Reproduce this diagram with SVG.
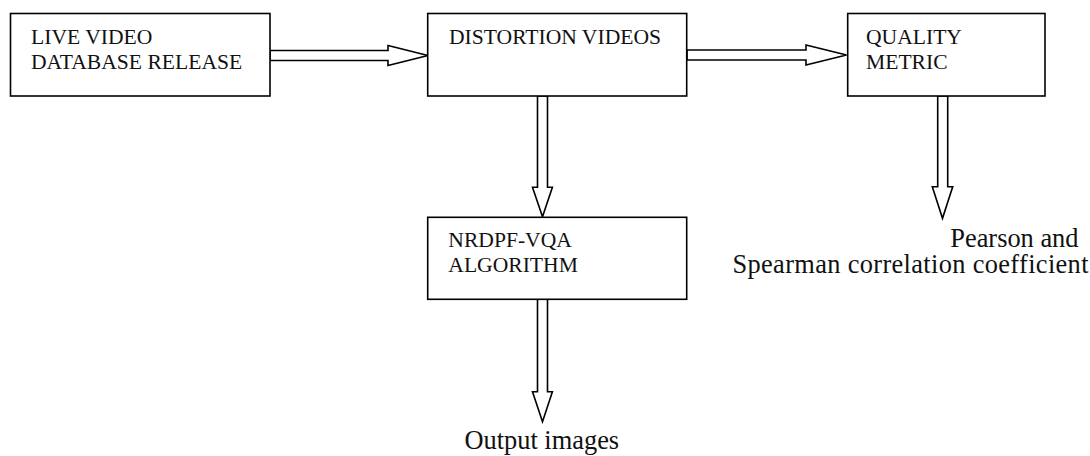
<svg xmlns="http://www.w3.org/2000/svg" width="1090" height="456" viewBox="0 0 1090 456">
  <style>
    .box { fill: #ffffff; stroke: #000000; stroke-width: 1.6; }
    .arrow { fill: #ffffff; stroke: #000000; stroke-width: 1.6; stroke-linejoin: miter; }
    .lbl { font-family: "Liberation Serif", "Times New Roman", serif; font-size: 21.6px; fill: #111111; }
    .out { font-family: "Liberation Serif", "Times New Roman", serif; font-size: 26.4px; fill: #111111; }
  </style>
  <rect width="1090" height="456" fill="#ffffff"/>

  <!-- hollow block arrows, drawn beneath the boxes -->
  <g id="connectors">
    <polygon class="arrow" points="270,50.5 388,50.5 388,45.5 428,55.5 388,65.5 388,60.5 270,60.5"/>
    <polygon class="arrow" points="687,50 806,50 806,45 846.5,55 806,65 806,60 687,60"/>
    <polygon class="arrow" points="537.5,96 547.5,96 547.5,187.3 552.4,187.3 542.5,216.7 532.5,187.3 537.5,187.3"/>
    <polygon class="arrow" points="537.5,299.3 547.5,299.3 547.5,391.7 552.4,391.7 542.5,421.7 532.5,391.7 537.5,391.7"/>
    <polygon class="arrow" points="937.7,96 947.7,96 947.7,186.7 952.7,186.7 942.5,218.3 932.3,186.7 937.7,186.7"/>
  </g>

  <g id="live-video">
    <rect class="box" x="10.5" y="13.5" width="259.5" height="82.5"/>
    <text class="lbl" x="31" y="44">LIVE VIDEO</text>
    <text class="lbl" x="31" y="69">DATABASE RELEASE</text>
  </g>

  <g id="distortion-videos">
    <rect class="box" x="427.7" y="13.5" width="259" height="82.5"/>
    <text class="lbl" x="449" y="44">DISTORTION VIDEOS</text>
  </g>

  <g id="quality-metric">
    <rect class="box" x="847.7" y="13.5" width="197.3" height="82.5"/>
    <text class="lbl" x="866" y="44">QUALITY</text>
    <text class="lbl" x="866" y="69">METRIC</text>
  </g>

  <g id="nrdpf-vqa">
    <rect class="box" x="427.7" y="217.3" width="259" height="82"/>
    <text class="lbl" x="448.3" y="247.3">NRDPF-VQA</text>
    <text class="lbl" x="448.3" y="272.3">ALGORITHM</text>
  </g>

  <g id="output-images">
    <text class="out" x="541.8" y="449" text-anchor="middle">Output images</text>
  </g>

  <g id="correlation">
    <text class="out" x="1078.5" y="246.7" text-anchor="end">Pearson and</text>
    <text class="out" x="732.5" y="273.3" textLength="356" lengthAdjust="spacing">Spearman correlation coefficient</text>
  </g>
</svg>
